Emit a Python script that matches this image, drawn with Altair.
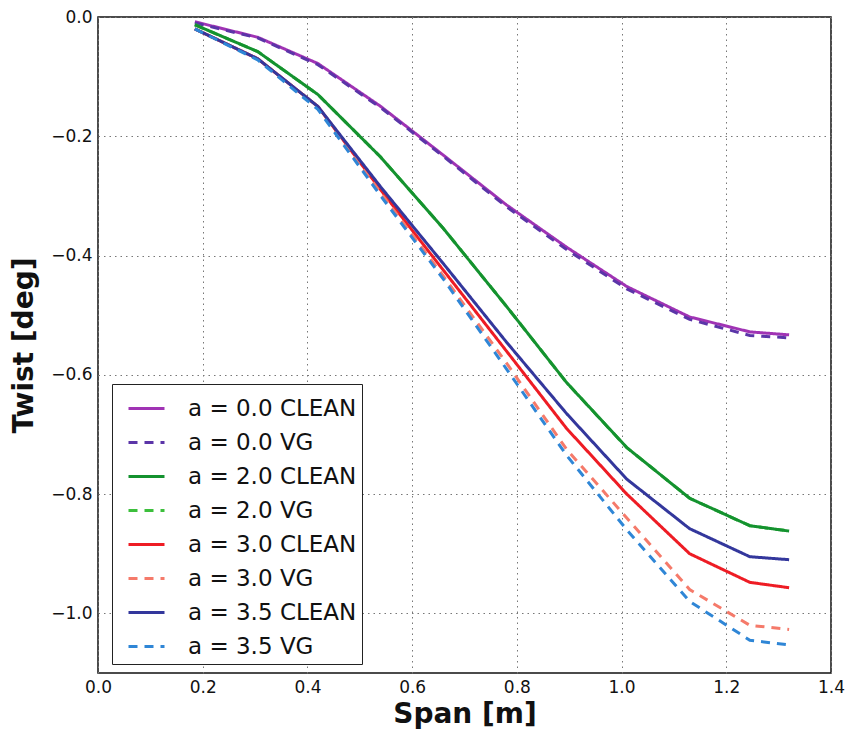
import altair as alt
import pandas as pd

# Spanwise stations [m]
span = [0.185, 0.305, 0.42, 0.54, 0.66, 0.78, 0.895, 1.01, 1.13, 1.245, 1.32]

# Twist [deg] per case
a00_clean = [-0.008, -0.034, -0.078, -0.150, -0.232, -0.315, -0.386, -0.452, -0.503, -0.528, -0.533]
a00_vg    = [-0.010, -0.035, -0.080, -0.152, -0.234, -0.318, -0.390, -0.456, -0.507, -0.534, -0.538]
a20_clean = [-0.013, -0.058, -0.130, -0.235, -0.355, -0.485, -0.613, -0.722, -0.807, -0.853, -0.862]
a20_vg    = [-0.013, -0.058, -0.130, -0.235, -0.355, -0.485, -0.613, -0.722, -0.807, -0.853, -0.862]
a30_clean = [-0.020, -0.070, -0.150, -0.290, -0.425, -0.560, -0.690, -0.800, -0.900, -0.948, -0.957]
a30_vg    = [-0.020, -0.070, -0.152, -0.295, -0.435, -0.580, -0.725, -0.840, -0.960, -1.020, -1.027]
a35_clean = [-0.020, -0.070, -0.150, -0.285, -0.414, -0.545, -0.665, -0.775, -0.858, -0.905, -0.910]
a35_vg    = [-0.020, -0.072, -0.155, -0.300, -0.440, -0.590, -0.735, -0.860, -0.980, -1.045, -1.053]

labels = ["a = 0.0 CLEAN", "a = 0.0 VG", "a = 2.0 CLEAN", "a = 2.0 VG",
          "a = 3.0 CLEAN", "a = 3.0 VG", "a = 3.5 CLEAN", "a = 3.5 VG"]
series = [a00_clean, a00_vg, a20_clean, a20_vg, a30_clean, a30_vg, a35_clean, a35_vg]
colors = ["#a033b4", "#5b35a8", "#14922f", "#3cbf3c",
          "#ee1c24", "#f57a6a", "#33379c", "#2f86d6"]
dashes = [[1, 0], [9, 7], [1, 0], [9, 7], [1, 0], [9, 7], [1, 0], [9, 7]]
draw_order = [0, 1, 3, 2, 4, 5, 6, 7]

x_ticks = [0.0, 0.2, 0.4, 0.6, 0.8, 1.0, 1.2, 1.4]
y_ticks = [0.0, -0.2, -0.4, -0.6, -0.8, -1.0]

rows = []
for lab, vals in zip(labels, series):
    for s, v in zip(span, vals):
        rows.append({"span": s, "twist": v, "case": lab})
df = pd.DataFrame(rows)

FONT = "DejaVu Sans"

legend = alt.Legend(
    title=None, orient="none", legendX=14, legendY=367,
    symbolType="stroke", symbolSize=1296, symbolStrokeWidth=3, symbolOffset=10,
    labelFont=FONT, labelFontSize=23, labelColor="#111", labelLimit=0,
    labelOffset=22, rowPadding=2, padding=5,
    strokeColor="#222", fillColor="white", cornerRadius=0,
)

color = alt.Color("case:N", scale=alt.Scale(domain=labels, range=colors), legend=legend)
dash = alt.StrokeDash("case:N", scale=alt.Scale(domain=labels, range=dashes), legend=legend)
xenc = alt.X("span:Q", title="Span [m]",
             scale=alt.Scale(domain=[0, 1.4], nice=False, zero=False),
             axis=alt.Axis(values=x_ticks, format=".1f", titlePadding=5, labelFlush=False))
yenc = alt.Y("twist:Q", title="Twist [deg]",
             scale=alt.Scale(domain=[-1.1, 0], nice=False, zero=False),
             axis=alt.Axis(values=y_ticks, format=".1f", titlePadding=12, labelFlush=False))

layers = []
for i in draw_order:
    layers.append(
        alt.Chart(df).transform_filter(alt.datum.case == labels[i])
        .mark_line(strokeWidth=3, strokeCap="butt")
        .encode(x=xenc, y=yenc, color=color, strokeDash=dash)
    )

chart = alt.layer(*layers).properties(
    width=733, height=656,
    autosize=alt.AutoSizeParams(type="none"),
    padding={"left": 98, "top": 17, "right": 14, "bottom": 56},
    background="white",
).configure_view(
    stroke="#111", strokeWidth=1.5
).configure_axis(
    labelFont=FONT, labelFontSize=17, labelColor="#111", labelPadding=6,
    titleFont=FONT, titleFontSize=28, titleFontWeight="bold", titleColor="#111",
    grid=True, gridColor="#777", gridDash=[1.5, 4], gridWidth=1,
    ticks=False, domain=False,
)

chart.save("out.html", embed_options={"renderer": "svg", "actions": False})
